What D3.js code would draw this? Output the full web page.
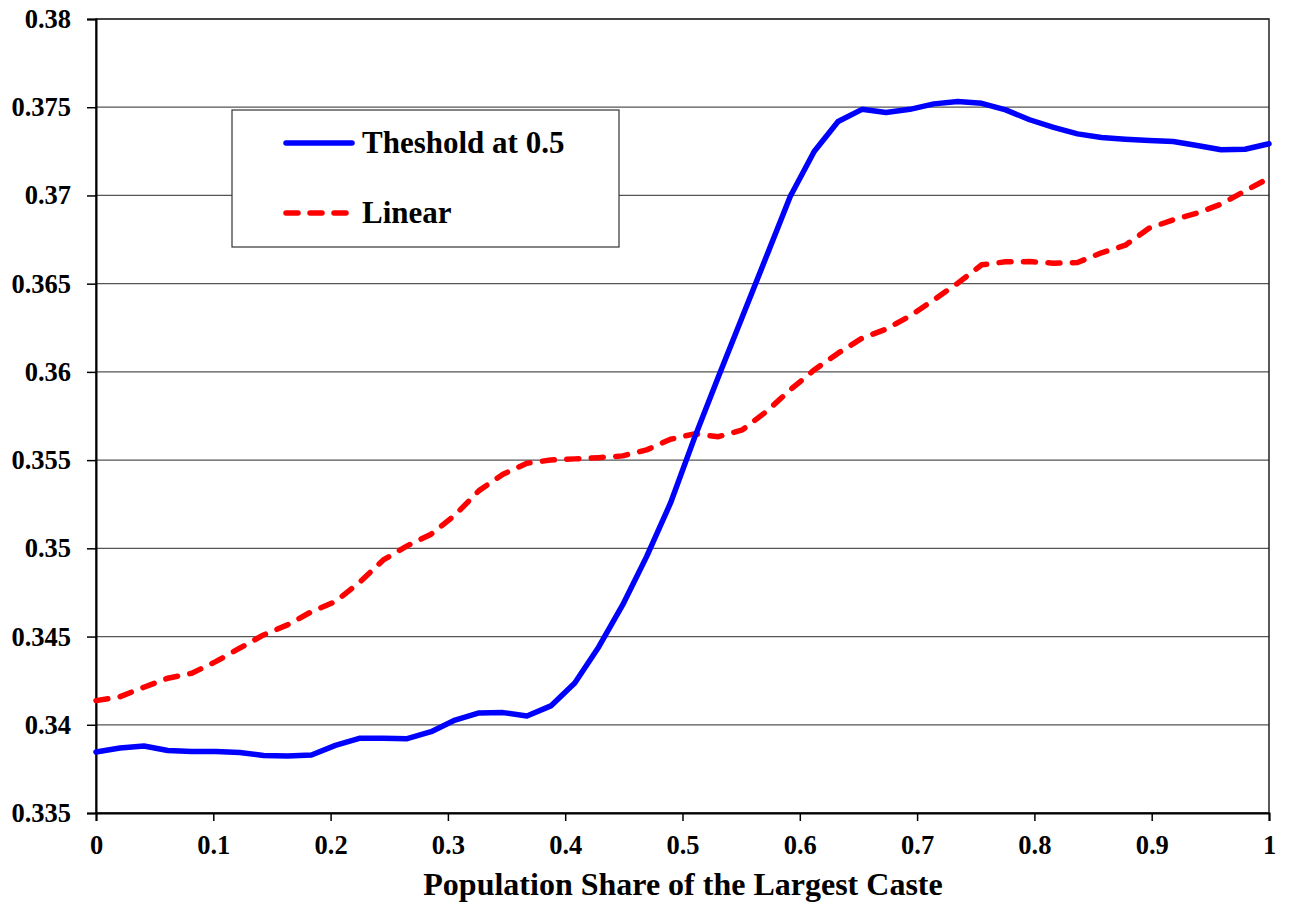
<!DOCTYPE html>
<html>
<head>
<meta charset="utf-8">
<script src="https://cdn.jsdelivr.net/npm/d3@7/dist/d3.min.js"></script>
<style>
  html, body { margin: 0; padding: 0; background: #fff; }
  svg { display: block; }
  text { font-family: "Liberation Serif", "Times New Roman", serif; font-weight: bold; fill: #000; }
</style>
</head>
<body>
<svg id="chart" width="1292" height="908"></svg>
<script>
// ---- Data ----
const xShares = d3.range(50).map(i => i / 49);
const thresholdSeries = [
  0.33846, 0.33868, 0.33880, 0.33854, 0.33849, 0.33849, 0.33843, 0.33826, 0.33823, 0.33829,
  0.33883, 0.33923, 0.33923, 0.33921, 0.33961, 0.34027, 0.34067, 0.34069, 0.34050, 0.34107,
  0.34237, 0.34441, 0.34679, 0.34953, 0.35257, 0.35626, 0.35972, 0.36312, 0.36652, 0.36994,
  0.37249, 0.37419, 0.37488, 0.37470, 0.37488, 0.37519, 0.37532, 0.37522, 0.37485, 0.37429,
  0.37386, 0.37349, 0.37328, 0.37319, 0.37312, 0.37306, 0.37283, 0.37259, 0.37262, 0.37293
];
const linearSeries = [
  0.34137, 0.34159, 0.34213, 0.34264, 0.34292, 0.34358, 0.34434, 0.34509, 0.34566, 0.34641,
  0.34698, 0.34806, 0.34934, 0.35014, 0.35080, 0.35189, 0.35327, 0.35420, 0.35482, 0.35501,
  0.35507, 0.35514, 0.35524, 0.35558, 0.35618, 0.35649, 0.35633, 0.35671, 0.35775, 0.35898,
  0.36011, 0.36106, 0.36191, 0.36242, 0.36317, 0.36408, 0.36503, 0.36607, 0.36624, 0.36625,
  0.36616, 0.36620, 0.36675, 0.36718, 0.36815, 0.36862, 0.36900, 0.36951, 0.37026, 0.37098
];
const seriesNames = ["Theshold at 0.5", "Linear"];
const xTicks = [0, 0.1, 0.2, 0.3, 0.4, 0.5, 0.6, 0.7, 0.8, 0.9, 1];
const xTickLabels = ["0", "0.1", "0.2", "0.3", "0.4", "0.5", "0.6", "0.7", "0.8", "0.9", "1"];
const yTicks = [0.335, 0.34, 0.345, 0.35, 0.355, 0.36, 0.365, 0.37, 0.375, 0.38];
const yTickLabels = ["0.335", "0.34", "0.345", "0.35", "0.355", "0.36", "0.365", "0.37", "0.375", "0.38"];
const xTitle = "Population Share of the Largest Caste";

// ---- Layout ----
const svg = d3.select("#chart");
const L = 96, R = 1269, T = 19, B = 813;

const x = d3.scaleLinear().domain([0, 1]).range([L, R]);
const y = d3.scaleLinear().domain([0.335, 0.38]).range([B, T]);

// gridlines
svg.append("g")
  .selectAll("line")
  .data(yTicks)
  .join("line")
  .attr("x1", L).attr("x2", R)
  .attr("y1", d => y(d)).attr("y2", d => y(d))
  .attr("stroke", "#555")
  .attr("stroke-width", 1.2);

// frame (top/right)
svg.append("rect")
  .attr("x", L).attr("y", T)
  .attr("width", R - L).attr("height", B - T)
  .attr("fill", "none")
  .attr("stroke", "#222")
  .attr("stroke-width", 1.5);

// Y axis
const yAxis = d3.axisLeft(y)
  .tickValues(yTicks)
  .tickFormat((d, i) => yTickLabels[i])
  .tickSize(9)
  .tickPadding(16);
const gy = svg.append("g").attr("transform", `translate(${L},0)`).call(yAxis);
gy.select(".domain").attr("stroke", "#000").attr("stroke-width", 2);
gy.selectAll(".tick line").attr("stroke", "#000").attr("stroke-width", 1.5);
gy.selectAll(".tick text")
  .attr("font-family", "'Liberation Serif', 'Times New Roman', serif")
  .attr("font-weight", "bold")
  .attr("font-size", 26.5)
  .attr("fill", "#000");

// X axis
const xAxis = d3.axisBottom(x)
  .tickValues(xTicks)
  .tickFormat((d, i) => xTickLabels[i])
  .tickSize(8)
  .tickPadding(14);
const gx = svg.append("g").attr("transform", `translate(0,${B})`).call(xAxis);
gx.select(".domain").attr("stroke", "#000").attr("stroke-width", 2);
gx.selectAll(".tick line").attr("stroke", "#000").attr("stroke-width", 1.5);
gx.selectAll(".tick text")
  .attr("font-family", "'Liberation Serif', 'Times New Roman', serif")
  .attr("font-weight", "bold")
  .attr("font-size", 26.5)
  .attr("fill", "#000");

// X title
svg.append("text")
  .attr("x", 683)
  .attr("y", 895)
  .attr("text-anchor", "middle")
  .attr("font-size", 32)
  .text(xTitle);

// Lines
const line = d3.line()
  .x((d, i) => x(xShares[i]))
  .y(d => y(d))
  .curve(d3.curveLinear);

svg.append("path")
  .datum(linearSeries)
  .attr("d", line)
  .attr("fill", "none")
  .attr("stroke", "#ff0000")
  .attr("stroke-width", 5.5)
  .attr("stroke-dasharray", "12,12.5")
  .attr("stroke-linecap", "round")
  .attr("stroke-linejoin", "round");

svg.append("path")
  .datum(thresholdSeries)
  .attr("d", line)
  .attr("fill", "none")
  .attr("stroke", "#0000ff")
  .attr("stroke-width", 5.5)
  .attr("stroke-linejoin", "round")
  .attr("stroke-linecap", "round");

// Legend
const lg = svg.append("g");
lg.append("rect")
  .attr("x", 232).attr("y", 110)
  .attr("width", 387).attr("height", 137)
  .attr("fill", "#fff")
  .attr("stroke", "#333")
  .attr("stroke-width", 1.2);
const legendItems = [
  { name: seriesNames[0], color: "#0000ff", dash: null, y: 143 },
  { name: seriesNames[1], color: "#ff0000", dash: "12,12", y: 213 }
];
legendItems.forEach(it => {
  const ln = lg.append("line")
    .attr("x1", 286).attr("x2", 352)
    .attr("y1", it.y).attr("y2", it.y)
    .attr("stroke", it.color)
    .attr("stroke-width", 5.5)
    .attr("stroke-linecap", "round");
  if (it.dash) ln.attr("stroke-dasharray", it.dash);
  lg.append("text")
    .attr("x", 362)
    .attr("y", it.y + 10)
    .attr("font-size", 31)
    .text(it.name);
});
</script>
</body>
</html>
